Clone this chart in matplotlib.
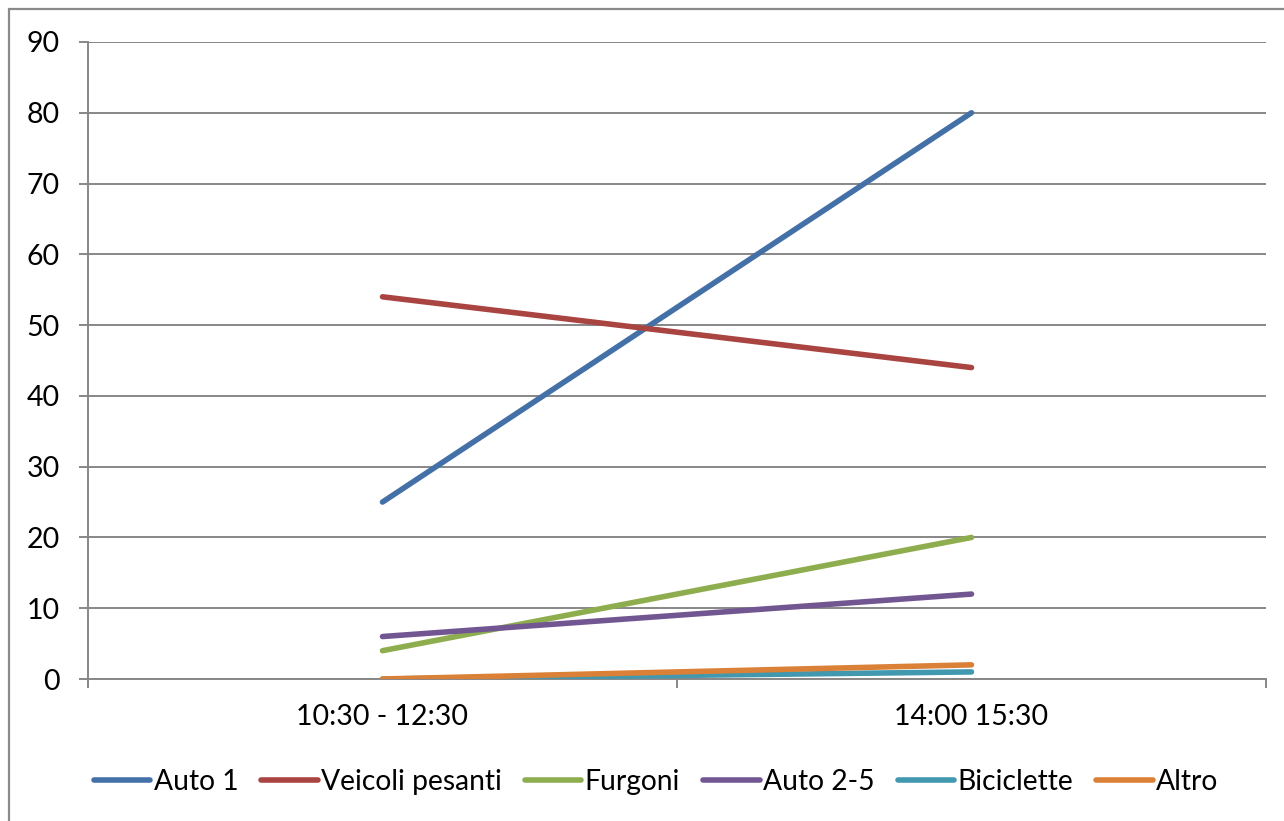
import matplotlib
matplotlib.use("Agg")
import matplotlib.pyplot as plt
from matplotlib.patches import Rectangle

categories = ["10:30 - 12:30", "14:00 15:30"]
series_names = ["Auto 1", "Veicoli pesanti", "Furgoni", "Auto 2-5", "Biciclette", "Altro"]
auto1 = [25, 80]
veicoli_pesanti = [54, 44]
furgoni = [4, 20]
auto2_5 = [6, 12]
biciclette = [0, 1]
altro = [0, 2]
y_ticks = list(range(0, 100, 10))

colors = ["#4470A8", "#A94440", "#8EAD4E", "#725692", "#4198AF", "#DA8137"]
values = [auto1, veicoli_pesanti, furgoni, auto2_5, biciclette, altro]

plt.rcParams['font.family'] = ['Lato', 'DejaVu Sans']
W, H = 1284, 821
fig = plt.figure(figsize=(W / 100, H / 100), dpi=100)
ax = fig.add_axes([88 / W, 1 - 679 / H, (1266 - 88) / W, (679 - 42) / H])

grid_c = "#878787"
x = list(range(len(categories)))
for name, vals, c in zip(series_names, values, colors):
    ax.plot(x, vals, color=c, lw=4.0, solid_capstyle="round", label=name, zorder=3)

ax.set_xlim(-0.5, len(categories) - 0.5)
ax.set_ylim(0, 90)
ax.set_yticks(y_ticks)
ax.set_yticklabels([str(v) for v in y_ticks], fontsize=20.5)
ax.yaxis.grid(True, color=grid_c, lw=1.4)
ax.set_axisbelow(True)

ax.set_xticks([i - 0.5 for i in range(len(categories) + 1)])
ax.set_xticklabels([])
ax.set_xticks(x, minor=True)
ax.set_xticklabels(categories, minor=True, fontsize=20.5)
ax.tick_params(axis="x", which="major", length=6.5, width=1.4, color=grid_c, direction="out")
ax.tick_params(axis="x", which="minor", length=0, pad=18)
ax.tick_params(axis="y", length=6.5, width=1.4, color=grid_c, pad=14)

for s in ["top", "right"]:
    ax.spines[s].set_visible(False)
for s in ["left", "bottom"]:
    ax.spines[s].set_color(grid_c)
    ax.spines[s].set_linewidth(1.4)

# outer chart frame
fig.patches.append(Rectangle((9 / W, -0.5), 2.0, 1.5 - 9 / H, transform=fig.transFigure,
                             fill=False, edgecolor="#8A8A8A", lw=1.6))

fig.legend(loc="center", bbox_to_anchor=(0.511, 1 - 782 / H), ncol=6, frameon=False,
           fontsize=20.3, handlelength=2.0, handletextpad=0.12, columnspacing=0.82,
           borderaxespad=0)

fig.savefig("out.png", dpi=100)
